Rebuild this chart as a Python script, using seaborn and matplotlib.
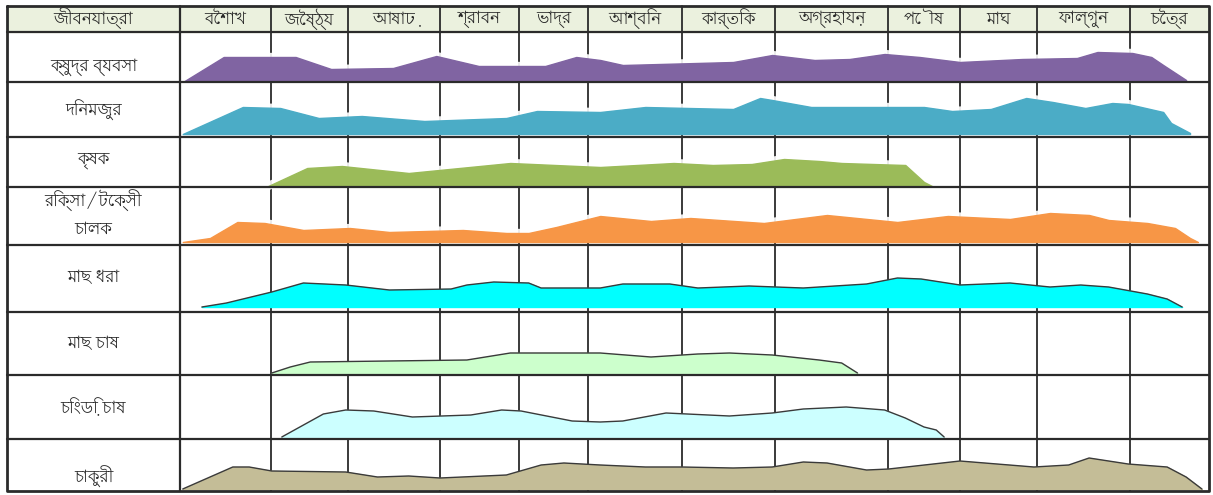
import numpy as np
import matplotlib
matplotlib.use('Agg')
import matplotlib.pyplot as plt
import seaborn as sns
from matplotlib import font_manager
from matplotlib.ft2font import FT2Font

# months (Bengali calendar) and livelihoods
header_first = 'জীবনযাত্রা'
months = ['বৈশাখ', 'জৈষ্ঠ্য', 'আষাঢ়', 'শ্রাবন', 'ভাদ্র', 'আশ্বিন', 'কার্তিক',
          'অগ্রহায়ন', 'পৌষ', 'মাঘ', 'ফাল্গুন', 'চৈত্র']
livelihoods = ['ক্ষুদ্র ব্যবসা', 'দিনমজুর', 'কৃষক', 'রিক্সা/টেক্সী\nচালক',
               'মাছ ধরা', 'মাছ চাষ', 'চিংড়ি চাষ', 'চাকুরী']

# activity profiles: position in months (0 = start of বৈশাখ) and level
small_business_m = [0.05, 0.48, 1.32, 1.78, 2.49, 2.96, 3.49, 4.38, 4.83, 5.13, 5.37, 6.55, 6.97,
                    7.35, 7.66, 7.97, 8.44, 9.0, 9.81, 10.43, 10.65, 11.03, 11.27, 11.42, 11.71]
small_business_v = [0, 24, 24, 12, 13, 25, 15, 15, 24, 21, 16, 19, 26,
                    21, 22, 27, 24, 19, 22, 23, 29, 28, 24, 16, 1]

day_labour_m = [0.03, 0.69, 1.12, 1.62, 2.15, 2.83, 3.84, 4.26, 5.13, 5.61, 6.55, 6.84, 6.97,
                7.32, 8.5, 8.89, 9.40, 9.86, 10.17, 10.52, 10.81, 10.98, 11.42, 11.52, 11.76]
day_labour_v = [0, 27, 26, 16, 18, 13, 16, 23, 22, 27, 25, 36, 34,
                27, 27, 23, 25, 36, 32, 26, 31, 30, 22, 11, 1]

farmer_m = [0.97, 1.47, 1.92, 2.66, 3.89, 5.13, 5.91, 6.33, 6.75, 7.08, 7.39, 7.59, 8.24, 8.5, 8.61]
farmer_v = [0, 18, 20, 13, 23, 19, 23, 21, 22, 27, 25, 23, 21, 4, 0]

rickshaw_m = [0.03, 0.33, 0.63, 0.93, 1.42, 2.02, 2.45, 3.29, 3.84, 4.14, 4.54, 5.13, 5.67,
              6.09, 6.88, 7.46, 8.13, 8.83, 9.65, 10.14, 10.56, 10.77, 11.22, 11.57, 11.76, 11.86]
rickshaw_v = [0, 4, 20, 19, 12, 14, 10, 12, 9, 9, 15, 26, 21,
              24, 19, 27, 20, 26, 23, 29, 27, 22, 19, 14, 4, 0]

fishing_m = [0.24, 0.51, 1.01, 1.42, 1.97, 2.45, 3.14, 3.34, 3.68, 4.14, 4.32, 5.13, 5.37, 5.87,
             6.17, 6.72, 7.25, 7.81, 8.13, 8.46, 9.0, 9.65, 10.14, 10.47, 10.77, 11.22, 11.47, 11.66]
fishing_v = [0, 4, 15, 24, 22, 17, 18, 22, 25, 24, 19, 19, 23, 23,
             19, 21, 19, 23, 29, 28, 22, 24, 20, 22, 20, 13, 8, 0]

fish_farm_m = [1.01, 1.25, 1.51, 3.34, 3.89, 5.13, 5.67, 6.17, 6.51, 6.97, 7.39, 7.59, 7.73]
fish_farm_v = [0, 6, 11, 13, 20, 20, 16, 19, 20, 18, 13, 10, 0]

shrimp_m = [1.14, 1.68, 1.97, 2.28, 2.70, 3.39, 3.78, 4.03, 4.77, 5.13, 5.37, 5.83,
            6.51, 6.97, 7.25, 7.63, 7.97, 8.24, 8.5, 8.67, 8.78]
shrimp_v = [0, 23, 27, 26, 20, 22, 27, 26, 16, 15, 16, 24,
            21, 24, 28, 30, 27, 19, 10, 7, 0]

service_m = [0.03, 0.58, 0.76, 1.01, 1.97, 2.32, 2.66, 3.0, 3.84, 4.32, 4.65, 5.13, 5.61, 6.0,
             6.55, 6.97, 7.25, 7.46, 7.81, 8.01, 9.0, 9.96, 10.34, 10.56, 10.98, 11.47, 11.71, 11.91]
service_v = [0, 22, 22, 18, 17, 12, 13, 11, 14, 24, 26, 24, 22, 22,
             21, 22, 27, 26, 19, 20, 28, 22, 24, 31, 25, 22, 12, 0]

profiles_m = [small_business_m, day_labour_m, farmer_m, rickshaw_m,
              fishing_m, fish_farm_m, shrimp_m, service_m]
profiles_v = [small_business_v, day_labour_v, farmer_v, rickshaw_v,
              fishing_v, fish_farm_v, shrimp_v, service_v]

colors = ['#8064A2', '#4BACC6', '#9BBB59', '#F79646', '#00FFFF', '#CCFFCC', '#CCFFFF', '#C4BD97']
outlined = [False, False, False, False, True, True, True, True]

# table layout (pixels)
W, H = 1213, 495
left, right, top = 7, 1209, 6
col_edges = [180, 271, 348, 440, 519, 588, 682, 775, 888, 960, 1037, 1130, 1209]
row_edges = [32, 82, 137, 187, 245, 312, 375, 439, 491]
baselines = [81, 134, 186, 242, 307, 373, 437, 489]
label_y = [67, 110, 160, 214, 277, 343, 408, 477]


def find_bengali_font():
    fonts = sorted(font_manager.fontManager.ttflist, key=lambda f: 'Bengali' not in f.name)
    for f in fonts:
        try:
            if 0x0995 in FT2Font(f.fname).get_charmap():
                return f.name
        except Exception:
            pass
    return None


sns.set_theme(style='white')
bn = find_bengali_font()
plt.rcParams['font.family'] = ([bn] if bn else []) + ['DejaVu Sans']

fig = plt.figure(figsize=(W / 100, H / 100), dpi=100)
ax = fig.add_axes([0, 0, 1, 1])
ax.set_xlim(0, W)
ax.set_ylim(H, 0)
ax.axis('off')

# header background
ax.fill_between([left, right], top, row_edges[0], color='#EBF1DE', zorder=0)

line_c = '#2b2b2b'
# vertical grid lines
for x in col_edges[1:-1]:
    ax.plot([x, x], [top, row_edges[-1]], color=line_c, lw=1.3, zorder=1)
ax.plot([col_edges[0], col_edges[0]], [top, row_edges[-1]], color=line_c, lw=1.6, zorder=5)

# activity areas
for i in range(len(livelihoods)):
    xs = np.interp(profiles_m[i], np.arange(13), col_edges)
    ys = baselines[i] - np.array(profiles_v[i], dtype=float)
    if outlined[i]:
        ax.fill_between(xs, ys, baselines[i], color=colors[i], zorder=3)
        sns.lineplot(x=xs, y=ys, ax=ax, color='#3a3a3a', lw=1.0, sort=False,
                     estimator=None, zorder=4)
    else:
        sns.lineplot(x=xs, y=ys, ax=ax, color='white', lw=6, alpha=0.9, sort=False,
                     estimator=None, zorder=2)
        ax.fill_between(xs, ys, baselines[i], color=colors[i], zorder=3)

# horizontal lines
for y in row_edges[:-1]:
    ax.plot([left, right], [y, y], color=line_c, lw=1.6, zorder=5)
ax.plot([left, right, right, left, left], [top, top, row_edges[-1], row_edges[-1], top],
        color=line_c, lw=2, zorder=6)

# header text
txt_c = '#262626'
ax.text((left + col_edges[0]) / 2, 19, header_first, ha='center', va='center',
        fontsize=12, color=txt_c)
for j, m in enumerate(months):
    ax.text((col_edges[j] + col_edges[j + 1]) / 2, 19, m, ha='center', va='center',
            fontsize=12, color=txt_c)

# row labels
for i, lab in enumerate(livelihoods):
    ax.text((left + col_edges[0]) / 2, label_y[i], lab, ha='center', va='center',
            fontsize=12, color=txt_c, linespacing=1.55)

fig.savefig('out.png', dpi=100)
